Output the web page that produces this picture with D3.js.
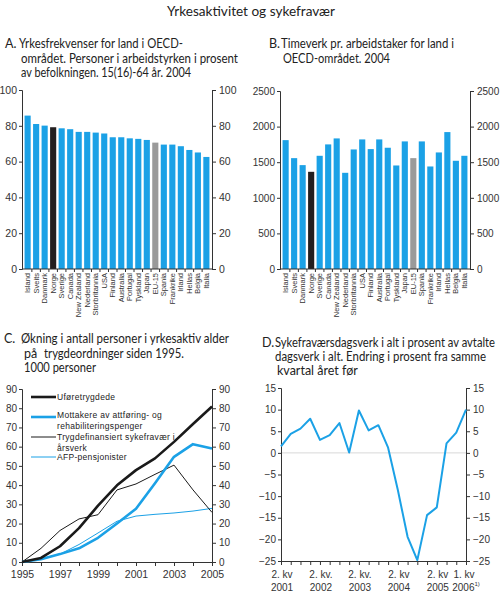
<!DOCTYPE html>
<html>
<head>
<meta charset="utf-8">
<script src="https://cdn.jsdelivr.net/npm/d3@7"></script>
<style>
  body { margin: 0; background: #fff; }
  svg { display: block; }
  .tick text { font-family: "Liberation Sans", Arial, sans-serif; fill: #333; }
  .domain, .tick line { stroke: #333; }
</style>
</head>
<body>
<svg id="chart" width="500" height="595"></svg>
<script>
// countries for panel A and B
const countries = ['Island', 'Sveits', 'Danmark', 'Norge', 'Sverige', 'Canada', 'New Zealand', 'Nederland',
  'Storbritannia', 'USA', 'Finland', 'Australia', 'Portugal', 'Tyskland', 'Japan', 'EU-15', 'Spania',
  'Frankrike', 'Irland', 'Hellas', 'Belgia', 'Italia'];

// A: yrkesfrekvens, prosent
const yrkesfrekvens = [85.7, 81.0, 80.1, 79.2, 78.6, 78.1, 76.6, 76.6, 76.2, 75.7, 73.6, 73.6, 73.0, 72.7,
  72.1, 70.6, 69.5, 69.5, 68.6, 66.5, 65.1, 62.6];

// B: timeverk pr. arbeidstaker
const timeverk = [1810, 1557, 1459, 1365, 1590, 1750, 1834, 1351, 1679, 1820, 1684, 1820, 1703, 1454,
  1792, 1557, 1792, 1440, 1637, 1923, 1520, 1590];

// C: 1000 personer
const years = [1995, 1996, 1997, 1998, 1999, 2000, 2001, 2002, 2003, 2004, 2005];
const uforetrygdede = [0, 2.1, 8.2, 17.6, 29.3, 39.9, 47.8, 53.9, 62.5, 71.8, 80.9];
const mottakere = [0, 1.4, 4.1, 7.1, 12.6, 20.0, 27.7, 41.0, 54.7, 61.3, 59.0];
const sykefravaer = [0, 7.1, 16.4, 22.4, 24.6, 37.5, 40.6, 45.6, 50.4, 37.5, 25.8];
const afp = [0, 1.7, 4.1, 9.1, 15.1, 21.2, 23.9, 24.8, 25.5, 26.5, 27.9];

// D: endring i prosent, 2. kv 2001 - 1. kv 2006
const quarters = ['2001Q2', '2001Q3', '2001Q4', '2002Q1', '2002Q2', '2002Q3', '2002Q4', '2003Q1', '2003Q2',
  '2003Q3', '2003Q4', '2004Q1', '2004Q2', '2004Q3', '2004Q4', '2005Q1', '2005Q2', '2005Q3', '2005Q4', '2006Q1'];
const endring = [1.5, 4.4, 5.6, 7.9, 3.0, 4.1, 6.9, 0.1, 9.8, 5.2, 6.4, 1.2, -8.6, -19.4, -24.8, -14.4,
  -12.6, 2.2, 4.7, 10.0];
const quarterLabels = [['2. kv', '2001'], ['2. kv.', '2002'], ['2. kv.', '2003'], ['2. kv', '2004'],
  ['2. kv', '2005'], ['1. kv', '2006']];
const quarterLabelIdx = [0, 4, 8, 12, 16, 19];

const blue = '#1ba1e6';
const svg = d3.select('#chart');
const titleFont = 'Lato, "Open Sans", sans-serif';
const axisFont = '"Liberation Sans", Arial, sans-serif';

// title text, squeezed to the width it has in the original
function label(x, y, txt, fs, w) {
  const t = svg.append('text')
    .attr('x', x).attr('y', y)
    .attr('font-family', titleFont).attr('font-size', fs)
    .attr('fill', '#222')
    .text(txt);
  if (w) t.attr('textLength', w).attr('lengthAdjust', 'spacingAndGlyphs');
  return t;
}

label(167, 16, 'Yrkesaktivitet og sykefravær', 14, 168);

// left + right y axes
function yAxes(y, x0, x1, ticks, fs) {
  svg.append('g').attr('transform', `translate(${x0},0)`)
    .call(d3.axisLeft(y).tickValues(ticks).tickSize(3).tickPadding(2).tickFormat(d3.format('d')))
    .call(g => g.selectAll('text').attr('font-size', fs));
  svg.append('g').attr('transform', `translate(${x1},0)`)
    .call(d3.axisRight(y).tickValues(ticks).tickSize(4).tickPadding(3).tickFormat(d3.format('d')))
    .call(g => g.selectAll('text').attr('font-size', fs));
}

function barPanel(vals, x0, x1, yTop, yBot, domainMax, step, fs) {
  const x = d3.scaleBand().domain(countries).range([x0, x1]).paddingInner(0.28).paddingOuter(0.3);
  const y = d3.scaleLinear().domain([0, domainMax]).range([yBot, yTop]);
  svg.append('g').selectAll('rect')
    .data(countries)
    .join('rect')
    .attr('x', d => x(d))
    .attr('width', x.bandwidth())
    .attr('y', (d, i) => y(vals[i]))
    .attr('height', (d, i) => yBot - y(vals[i]))
    .attr('fill', d => d === 'Norge' ? '#231f20' : d === 'EU-15' ? '#9a9a9a' : blue);
  yAxes(y, x0, x1, d3.range(0, domainMax + 1, step), fs);
  // bottom axis, ticks between the bars
  const xa = svg.append('g').attr('transform', `translate(0,${yBot})`);
  xa.append('line').attr('x1', x0).attr('x2', x1).attr('stroke', '#333');
  xa.selectAll('line.tk')
    .data(countries.slice(1))
    .join('line')
    .attr('class', 'tk')
    .attr('x1', d => x(d) - x.step() * x.paddingInner() / 2)
    .attr('x2', d => x(d) - x.step() * x.paddingInner() / 2)
    .attr('y1', 0).attr('y2', 3)
    .attr('stroke', '#333');
  xa.selectAll('text')
    .data(countries)
    .join('text')
    .attr('transform', d => `translate(${x(d) + x.bandwidth() / 2 + 2.5},4) rotate(-90)`)
    .attr('text-anchor', 'end')
    .attr('font-family', axisFont).attr('font-size', 7.5)
    .attr('fill', '#333')
    .text(d => d);
}

// ---- A ----
label(5, 48, 'A.', 12.5);
label(19, 48, 'Yrkesfrekvenser for land i OECD-', 12.5, 164);
label(21, 63, 'området. Personer i arbeidstyrken i prosent', 12.5, 217);
label(21, 77, 'av befolkningen. 15(16)-64 år. 2004', 12.5, 170);
barPanel(yrkesfrekvens, 22, 212, 90, 269, 100, 20, 10.5);

// ---- B ----
label(269, 48, 'B.', 12.5);
label(281, 48, 'Timeverk pr. arbeidstaker for land i', 12.5, 173);
label(283, 63, 'OECD-området. 2004', 12.5, 107);
barPanel(timeverk, 280, 470, 91, 269, 2500, 500, 10);

// ---- C ----
label(4, 343, 'C.', 12.5);
label(21, 343, 'Økning i antall personer i yrkesaktiv alder', 12.5, 208);
label(24, 358, 'på', 12.5);
label(44, 358, 'trygdeordninger siden 1995.', 12.5, 140);
label(24, 372, '1000 personer', 12.5, 72);
{
  const x0 = 22, x1 = 212, yTop = 389, yBot = 562;
  const x = d3.scaleLinear().domain([1995, 2005]).range([x0, x1]);
  const y = d3.scaleLinear().domain([0, 90]).range([yBot, yTop]);
  yAxes(y, x0, x1, d3.range(0, 91, 10), 10);
  svg.append('g').attr('transform', `translate(0,${yBot})`)
    .call(d3.axisBottom(x).tickValues(years).tickSize(4).tickPadding(5)
      .tickFormat(d => d % 2 === 1 ? d : ''))
    .call(g => g.selectAll('text').attr('font-size', 10.5));

  const series = [
    { name: ['Uføretrygdede'], vals: uforetrygdede, color: '#1a1a1a', w: 2.6 },
    { name: ['Mottakere av attføring- og', 'rehabiliteringspenger'], vals: mottakere, color: blue, w: 2.6 },
    { name: ['Trygdefinansiert sykefravær i', 'årsverk'], vals: sykefravaer, color: '#1a1a1a', w: 1 },
    { name: ['AFP-pensjonister'], vals: afp, color: blue, w: 1 }
  ];
  const line = d3.line().x((d, i) => x(years[i])).y(d => y(d));
  // thin lines first, thick on top
  [3, 2, 1, 0].forEach(k => {
    svg.append('path')
      .attr('d', line(series[k].vals))
      .attr('fill', 'none')
      .attr('stroke', series[k].color)
      .attr('stroke-width', series[k].w)
      .attr('stroke-linejoin', 'round');
  });

  // legend
  const legY = [397, 417, 437, 457];
  series.forEach((s, i) => {
    svg.append('line')
      .attr('x1', 31).attr('x2', 56)
      .attr('y1', legY[i]).attr('y2', legY[i])
      .attr('stroke', s.color).attr('stroke-width', s.w);
    s.name.forEach((t, j) => {
      svg.append('text')
        .attr('x', 57).attr('y', legY[i] + 3 + j * 11 - (i === 1 ? 2 : 0))
        .attr('font-family', axisFont).attr('font-size', 8.5)
        .attr('letter-spacing', 0.3)
        .attr('fill', '#222')
        .text(t);
    });
  });
}

// ---- D ----
label(262, 347, 'D.', 12.5);
label(275, 347, 'Sykefraværsdagsverk i alt i prosent av avtalte', 12.5, 220);
label(275, 361, 'dagsverk i alt. Endring i prosent fra samme', 12.5, 211);
label(277, 375, 'kvartal året før', 12.5);
{
  const x0 = 281, x1 = 466, yTop = 388, yBot = 561;
  const x = d3.scalePoint().domain(quarters).range([x0, x1]);
  const y = d3.scaleLinear().domain([-25, 15]).range([yBot, yTop]);
  svg.append('line')
    .attr('x1', x0).attr('x2', x1).attr('y1', y(0)).attr('y2', y(0))
    .attr('stroke', '#d8d8d8').attr('stroke-width', 1);
  yAxes(y, x0, x1, d3.range(-25, 16, 5), 10);
  svg.append('g').attr('transform', `translate(0,${yBot})`)
    .call(d3.axisBottom(x).tickSize(4).tickFormat(''));
  const lab = svg.append('g');
  quarterLabelIdx.forEach((qi, k) => {
    const cx = x(quarters[qi]) + (qi === 19 ? -2 : 1);
    lab.append('text')
      .attr('x', cx).attr('y', 578)
      .attr('text-anchor', 'middle')
      .attr('font-family', axisFont).attr('font-size', 10)
      .attr('fill', '#333')
      .text(quarterLabels[k][0]);
    const t = lab.append('text')
      .attr('x', cx + (qi === 19 ? 2 : 0)).attr('y', 591)
      .attr('text-anchor', 'middle')
      .attr('font-family', axisFont).attr('font-size', 10)
      .attr('fill', '#333')
      .text(quarterLabels[k][1]);
    if (qi === 19) {
      t.append('tspan').attr('dy', -5).attr('font-size', 6).text('1)');
    }
  });
  svg.append('path')
    .attr('d', d3.line().x((d, i) => x(quarters[i])).y(d => y(d))(endring))
    .attr('fill', 'none')
    .attr('stroke', blue)
    .attr('stroke-width', 2)
    .attr('stroke-linejoin', 'round');
}
</script>
</body>
</html>
